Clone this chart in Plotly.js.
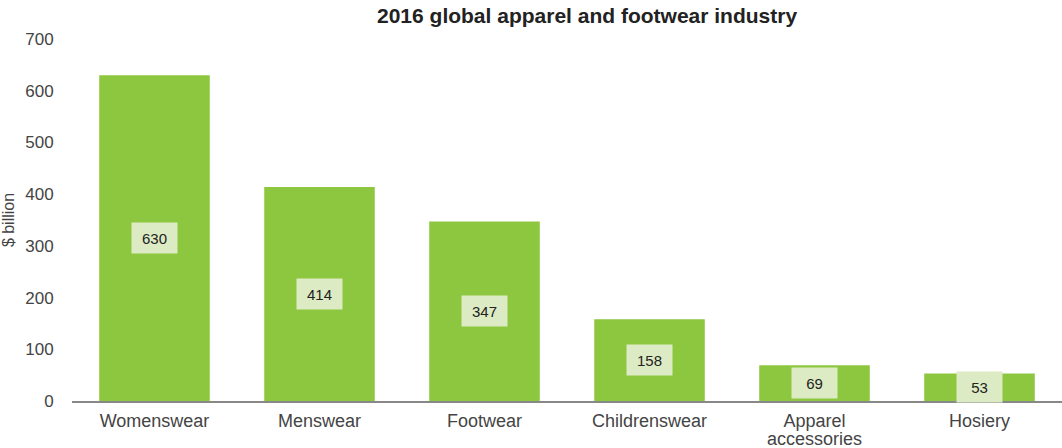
<!DOCTYPE html>
<html>
<head>
<meta charset="utf-8">
<script src="https://cdn.plot.ly/plotly-3.0.1.min.js"></script>
<style>html,body{margin:0;padding:0;background:#fff;}#chart{width:1062px;height:448px;}</style>
</head>
<body>
<div id="chart"></div>
<script>
const categories = ["Womenswear", "Menswear", "Footwear", "Childrenswear", "Apparel accessories", "Hosiery"];
const values = [630, 414, 347, 158, 69, 53];
const tickLines1 = ["Womenswear", "Menswear", "Footwear", "Childrenswear", "Apparel", "Hosiery"];
const tickLines2 = ["", "", "", "", "accessories", ""];
const yTicks = [0, 100, 200, 300, 400, 500, 600, 700];

const FONT = "Liberation Sans, Arial, sans-serif";

const trace = {
  type: "bar",
  x: categories,
  y: values,
  marker: {color: "#8dc63f"},
  hoverinfo: "x+y"
};

const annotations = categories.map((c, i) => ({
  x: c, y: values[i] / 2, xref: "x", yref: "y",
  text: String(values[i]), showarrow: false,
  bgcolor: "#dcebc4", width: 43, height: 28,
  font: {family: FONT, size: 15, color: "#222"}
}));
categories.forEach((c, i) => {
  if (tickLines2[i]) {
    annotations.push({
      x: c, y: 0, xref: "x", yref: "y", yanchor: "middle", yshift: -38,
      height: 16, borderpad: 0,
      text: tickLines2[i], showarrow: false,
      font: {family: FONT, size: 18, color: "#444"}
    });
  }
});
annotations.push({
  xref: "paper", yref: "paper", x: 0.52, y: 1, yshift: 24, xanchor: "center", yanchor: "middle",
  text: "<b>2016 global apparel and footwear industry</b>", showarrow: false,
  font: {family: FONT, size: 21, color: "#222"}
});

const layout = {
  width: 1062, height: 448,
  margin: {l: 72, r: 0, t: 39, b: 47, pad: 0},
  paper_bgcolor: "#fff", plot_bgcolor: "#fff",
  bargap: 0.33,
  showlegend: false,
  font: {family: FONT, size: 16, color: "#444"},
  xaxis: {
    showgrid: false, showline: true, linecolor: "#888", linewidth: 2,
    ticks: "outside", ticklen: 2, tickcolor: "rgba(0,0,0,0)",
    tickmode: "array", tickvals: categories, ticktext: tickLines1,
    tickfont: {size: 18, color: "#444"}, automargin: false
  },
  yaxis: {
    range: [0, 700], tickvals: yTicks, showgrid: false, zeroline: false, showline: false,
    ticks: "outside", ticklen: 14, tickcolor: "rgba(0,0,0,0)",
    tickfont: {size: 17, color: "#444"},
    title: {text: "$ billion", font: {size: 16, color: "#444"}, standoff: 6},
    automargin: false
  },
  annotations: annotations
};

Plotly.newPlot("chart", [trace], layout, {displayModeBar: false, staticPlot: true});
</script>
</body>
</html>
